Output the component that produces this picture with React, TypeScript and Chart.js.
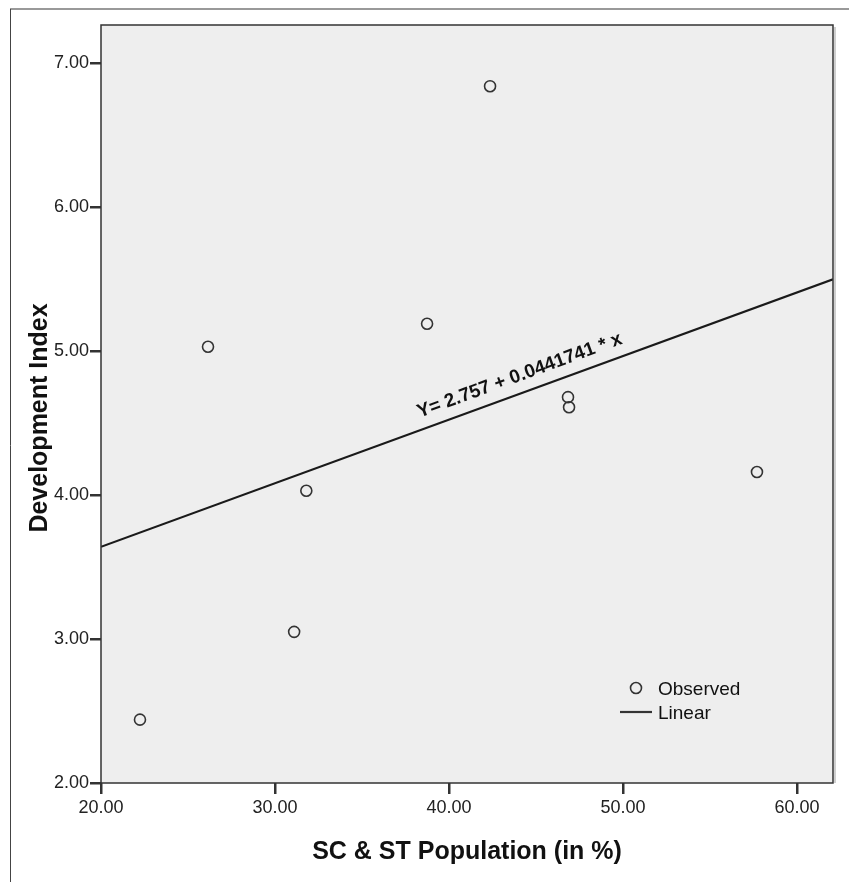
import React, { useEffect, useRef } from "react";
import { Chart, registerables } from "chart.js";

Chart.register(...registerables);

// Observed data
const populationPct = [22.24, 26.15, 31.1, 31.8, 38.74, 42.36, 46.84, 46.9, 57.7];
const developmentIndex = [2.44, 5.03, 3.05, 4.03, 5.19, 6.84, 4.68, 4.61, 4.16];

// Linear fit endpoints (Y = 2.757 + 0.0441741 * x)
const fitX = [20, 62.07];
const fitY = [3.6405, 5.4989];
const equationLabel = "Y= 2.757 + 0.0441741 * x";

// Axis ticks
const xTicks = [20, 30, 40, 50, 60];
const yTicks = [2, 3, 4, 5, 6, 7];

const xTitle = "SC & ST Population (in %)";
const yTitle = "Development Index";

const FONT = "'Liberation Sans', Arial, sans-serif";

const framePlugin = {
  id: "frame",
  beforeDraw(chart: any) {
    const { ctx, chartArea: a, width, height } = chart;
    ctx.save();
    ctx.fillStyle = "#ffffff";
    ctx.fillRect(0, 0, width, height);
    // outer frame
    ctx.strokeStyle = "#999999";
    ctx.lineWidth = 2;
    ctx.beginPath();
    ctx.moveTo(10, 9);
    ctx.lineTo(width, 9);
    ctx.stroke();
    ctx.strokeStyle = "#444444";
    ctx.lineWidth = 1;
    ctx.beginPath();
    ctx.moveTo(10.5, 9);
    ctx.lineTo(10.5, height);
    ctx.stroke();
    // plot background
    ctx.fillStyle = "#EEEEEE";
    ctx.fillRect(a.left, a.top, a.right - a.left, a.bottom - a.top);
    ctx.restore();
  },
  afterDraw(chart: any) {
    const { ctx, chartArea: a } = chart;
    ctx.save();
    // y axis title
    ctx.translate(40, (a.top + a.bottom) / 2 + 14);
    ctx.rotate(-Math.PI / 2);
    ctx.fillStyle = "#111111";
    ctx.font = `bold 25px ${FONT}`;
    ctx.textAlign = "center";
    ctx.textBaseline = "middle";
    ctx.fillText(yTitle, 0, 0);
    ctx.restore();
  },
  afterDatasetsDraw(chart: any) {
    const { ctx, chartArea: a, scales } = chart;
    const xs = scales.x;
    const ys = scales.y;
    ctx.save();
    // plot border
    ctx.strokeStyle = "#cfcfcf";
    ctx.lineWidth = 2;
    ctx.beginPath();
    ctx.moveTo(a.right + 2, a.top + 2);
    ctx.lineTo(a.right + 2, a.bottom);
    ctx.stroke();
    ctx.strokeStyle = "#333333";
    ctx.lineWidth = 1.5;
    ctx.strokeRect(a.left, a.top, a.right - a.left, a.bottom - a.top);

    // equation label along the fit line
    const x1 = xs.getPixelForValue(fitX[0]);
    const y1 = ys.getPixelForValue(fitY[0]);
    const x2 = xs.getPixelForValue(fitX[1]);
    const y2 = ys.getPixelForValue(fitY[1]);
    const ang = Math.atan2(y2 - y1, x2 - x1);
    const t = 0.58;
    const px = x1 + (x2 - x1) * t;
    const py = y1 + (y2 - y1) * t;
    const off = 17;
    const cx = px + Math.sin(ang) * off;
    const cy = py - Math.cos(ang) * off;
    ctx.translate(cx, cy);
    ctx.rotate(ang);
    ctx.fillStyle = "#111111";
    ctx.font = `bold 19px ${FONT}`;
    ctx.textAlign = "center";
    ctx.textBaseline = "middle";
    ctx.fillText(equationLabel, 0, 0);
    ctx.setTransform(1, 0, 0, 1, 0, 0);

    // legend
    const lx = a.right - 213;
    const ly = a.bottom - 95;
    ctx.strokeStyle = "#333333";
    ctx.lineWidth = 1.6;
    ctx.beginPath();
    ctx.arc(lx + 16, ly, 5.5, 0, Math.PI * 2);
    ctx.stroke();
    ctx.lineWidth = 2.2;
    ctx.beginPath();
    ctx.moveTo(lx, ly + 24);
    ctx.lineTo(lx + 32, ly + 24);
    ctx.stroke();
    ctx.fillStyle = "#111111";
    ctx.font = `19px ${FONT}`;
    ctx.textAlign = "left";
    ctx.textBaseline = "middle";
    ctx.fillText("Observed", lx + 38, ly + 2);
    ctx.fillText("Linear", lx + 38, ly + 26);
    ctx.restore();
  },
};

export default function App() {
  const ref = useRef<HTMLCanvasElement | null>(null);
  useEffect(() => {
    if (!ref.current) return;
    const chart = new Chart(ref.current, {
      type: "scatter",
      data: {
        datasets: [
          {
            label: "Linear",
            type: "line",
            data: fitX.map((v, i) => ({ x: v, y: fitY[i] })),
            borderColor: "#1a1a1a",
            borderWidth: 2.2,
            pointRadius: 0,
            fill: false,
          } as any,
          {
            label: "Observed",
            data: populationPct.map((v, i) => ({ x: v, y: developmentIndex[i] })),
            pointStyle: "circle",
            pointRadius: 5.5,
            pointHoverRadius: 5.5,
            pointBorderWidth: 1.6,
            borderColor: "#333333",
            backgroundColor: "rgba(0,0,0,0)",
          },
        ],
      },
      options: {
        responsive: false,
        animation: false,
        layout: { padding: { top: 25, right: 16, left: 0, bottom: 0 } },
        plugins: {
          legend: { display: false },
          tooltip: { enabled: false },
        },
        scales: {
          x: {
            type: "linear",
            min: 20,
            max: 62.07,
            afterBuildTicks: (s: any) => {
              s.ticks = xTicks.map((v) => ({ value: v }));
            },
            afterFit: (s: any) => {
              s.height = 99;
            },
            ticks: {
              color: "#222222",
              font: { family: FONT, size: 18 },
              padding: 3,
              maxRotation: 0,
              callback: (v: any) => Number(v).toFixed(2),
            },
            grid: {
              drawOnChartArea: false,
              drawTicks: true,
              tickLength: 11,
              color: "#333333",
              lineWidth: 2.5,
            },
            border: { display: false },
            title: {
              display: true,
              text: xTitle,
              color: "#111111",
              font: { family: FONT, size: 25, weight: "bold" },
              padding: { top: 0, bottom: 15 },
            },
          },
          y: {
            type: "linear",
            min: 2,
            max: 7.265,
            afterBuildTicks: (s: any) => {
              s.ticks = yTicks.map((v) => ({ value: v }));
            },
            afterFit: (s: any) => {
              s.width = 101;
            },
            ticks: {
              color: "#222222",
              font: { family: FONT, size: 18 },
              padding: 1,
              callback: (v: any) => Number(v).toFixed(2),
            },
            grid: {
              drawOnChartArea: false,
              drawTicks: true,
              tickLength: 11,
              color: "#333333",
              lineWidth: 2.5,
            },
            border: { display: false },
            title: { display: false },
          },
        },
      },
      plugins: [framePlugin],
    });
    return () => chart.destroy();
  }, []);
  return (
    <canvas
      ref={ref}
      width={849}
      height={882}
      style={{ position: "absolute", left: 0, top: 0, display: "block" }}
    />
  );
}
